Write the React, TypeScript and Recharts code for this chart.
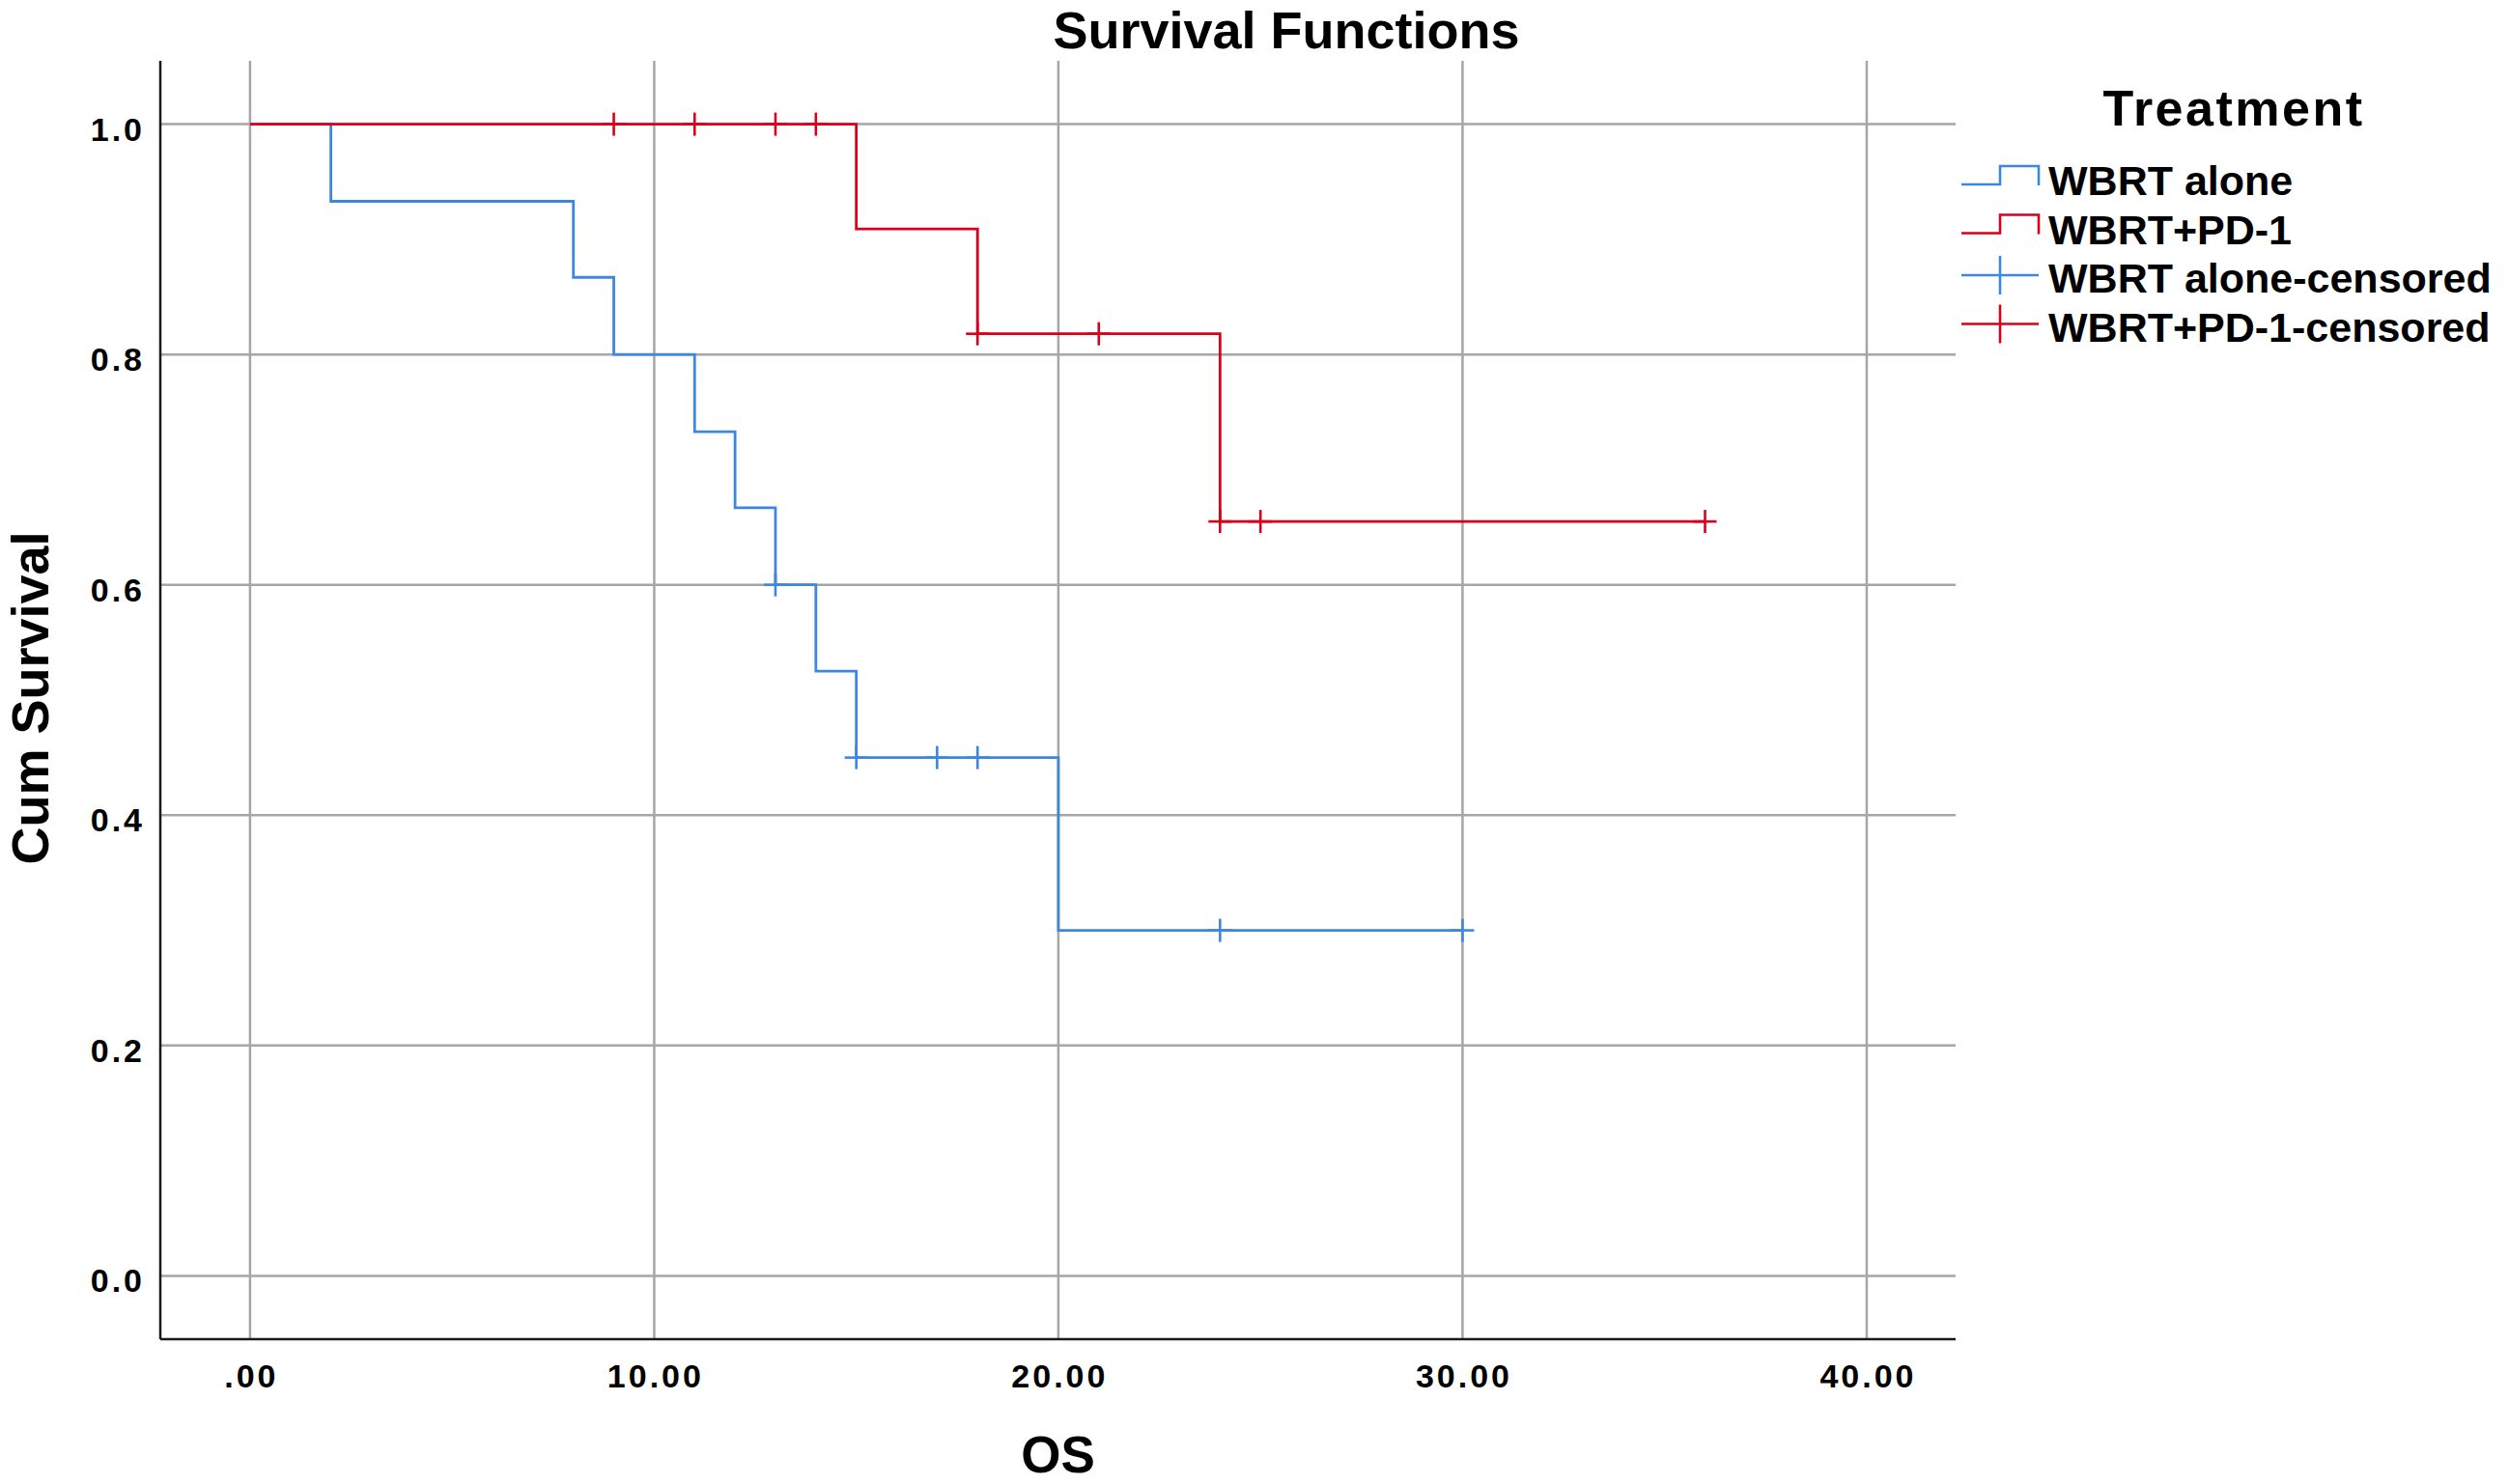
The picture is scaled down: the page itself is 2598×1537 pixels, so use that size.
import React from 'react';
import {
  ComposedChart,
  Line,
  Scatter,
  XAxis,
  YAxis,
  CartesianGrid,
  Legend,
  Label,
} from 'recharts';

// Kaplan-Meier steps (OS in months, cumulative survival)
const wbrtAloneSteps = [
  { x: 0, y: 1.0 },
  { x: 2, y: 0.933 },
  { x: 8, y: 0.867 },
  { x: 9, y: 0.8 },
  { x: 11, y: 0.733 },
  { x: 12, y: 0.667 },
  { x: 13, y: 0.6 },
  { x: 14, y: 0.525 },
  { x: 15, y: 0.45 },
  { x: 20, y: 0.3 },
  { x: 30, y: 0.3 },
];

const wbrtPd1Steps = [
  { x: 0, y: 1.0 },
  { x: 15, y: 0.909 },
  { x: 18, y: 0.818 },
  { x: 24, y: 0.655 },
  { x: 36, y: 0.655 },
];

const wbrtAloneCensored = [
  { x: 13, y: 0.6 },
  { x: 15, y: 0.45 },
  { x: 17, y: 0.45 },
  { x: 18, y: 0.45 },
  { x: 24, y: 0.3 },
  { x: 30, y: 0.3 },
];

const wbrtPd1Censored = [
  { x: 9, y: 1.0 },
  { x: 11, y: 1.0 },
  { x: 13, y: 1.0 },
  { x: 14, y: 1.0 },
  { x: 18, y: 0.818 },
  { x: 21, y: 0.818 },
  { x: 24, y: 0.655 },
  { x: 25, y: 0.655 },
  { x: 36, y: 0.655 },
];

const xTicks = [0, 10, 20, 30, 40];
const yTicks = [0, 0.2, 0.4, 0.6, 0.8, 1.0];
const xDomain = [-2.22, 42.2];
const yDomain = [-0.055, 1.055];

const BLUE = '#3D87DF';
const RED = '#D8001C';
const FONT = '"Liberation Sans", Arial, Helvetica, sans-serif';

// grid only at the tick values (no lines on the top / right edge)
const vGrid = (p: any) => {
  const o = p.offset;
  return xTicks.map((t) => o.left + ((t - xDomain[0]) / (xDomain[1] - xDomain[0])) * o.width);
};
const hGrid = (p: any) => {
  const o = p.offset;
  return yTicks.map((t) => o.top + ((yDomain[1] - t) / (yDomain[1] - yDomain[0])) * o.height);
};

const crossShape = (color: string) => (props: any) => {
  const { cx, cy } = props;
  return (
    <g>
      <line x1={cx - 12} x2={cx + 12} y1={cy} y2={cy} stroke={color} strokeWidth={2.6} />
      <line x1={cx} x2={cx} y1={cy - 12} y2={cy + 12} stroke={color} strokeWidth={2.6} />
    </g>
  );
};

const XTick = (props: any) => {
  const { x, y, payload } = props;
  const v = payload.value;
  const label = v === 0 ? '.00' : v.toFixed(2);
  return (
    <text
      x={x + 1.5}
      y={y + 50}
      textAnchor="middle"
      fontFamily={FONT}
      fontWeight="bold"
      fontSize={34}
      letterSpacing={3}
      fill="#000"
    >
      {label}
    </text>
  );
};

const YTick = (props: any) => {
  const { x, y, payload } = props;
  return (
    <text
      x={x - 16}
      y={y + 17}
      textAnchor="end"
      fontFamily={FONT}
      fontWeight="bold"
      fontSize={34}
      letterSpacing={3}
      fill="#000"
    >
      {payload.value.toFixed(1)}
    </text>
  );
};

const legendRows = [
  { name: 'WBRT alone', color: BLUE, kind: 'step' },
  { name: 'WBRT+PD-1', color: RED, kind: 'step' },
  { name: 'WBRT alone-censored', color: BLUE, kind: 'cross' },
  { name: 'WBRT+PD-1-censored', color: RED, kind: 'cross' },
];

const LegendContent = () => (
  <svg width={578} height={320} style={{ display: 'block', overflow: 'visible' }}>
    <text
      x={293}
      y={70}
      textAnchor="middle"
      fontFamily={FONT}
      fontWeight="bold"
      fontSize={52}
      letterSpacing={2.5}
      fill="#000"
    >
      Treatment
    </text>
    {legendRows.map((row, i) => {
      const base = 142 + i * 50.5;
      const mid = base - 11;
      return (
        <g key={row.name}>
          {row.kind === 'step' ? (
            <path
              d={`M11,${mid} H51 V${mid - 19} H91 V${mid + 1}`}
              fill="none"
              stroke={row.color}
              strokeWidth={2.6}
            />
          ) : (
            <g>
              <line x1={11} x2={91} y1={mid - 7} y2={mid - 7} stroke={row.color} strokeWidth={2.6} />
              <line x1={51} x2={51} y1={mid - 27} y2={mid + 13} stroke={row.color} strokeWidth={2.6} />
            </g>
          )}
          <text x={101} y={base} fontFamily={FONT} fontWeight="bold" fontSize={43} fill="#000">
            {row.name}
          </text>
        </g>
      );
    })}
  </svg>
);

export default function App() {
  return (
    <div style={{ position: 'absolute', left: 0, top: 0, width: 2598, height: 1537, background: '#fff' }}>
      <ComposedChart
        width={2598}
        height={1537}
        margin={{ top: 63, right: 573, bottom: 0, left: 0 }}
      >
        <CartesianGrid
          stroke="#A6A6A6"
          strokeWidth={2.5}
          verticalCoordinatesGenerator={vGrid}
          horizontalCoordinatesGenerator={hGrid}
        />
        <XAxis
          dataKey="x"
          type="number"
          domain={xDomain}
          allowDataOverflow
          ticks={xTicks}
          tick={<XTick />}
          tickLine={false}
          tickSize={0}
          tickMargin={0}
          height={150}
          axisLine={{ stroke: '#1A1A1A', strokeWidth: 2.5 }}
        >
          <Label
            content={(p: any) => {
              const vb = p.viewBox;
              return (
                <text
                  x={vb.x + vb.width / 2}
                  y={vb.y + 138}
                  textAnchor="middle"
                  fontFamily={FONT}
                  fontWeight="bold"
                  fontSize={53}
                  fill="#000"
                >
                  OS
                </text>
              );
            }}
          />
        </XAxis>
        <YAxis
          type="number"
          domain={yDomain}
          allowDataOverflow
          ticks={yTicks}
          tick={<YTick />}
          tickLine={false}
          tickSize={0}
          tickMargin={0}
          width={166}
          axisLine={{ stroke: '#1A1A1A', strokeWidth: 2.5 }}
        >
          <Label
            content={(p: any) => {
              const vb = p.viewBox;
              const cy = vb.y + vb.height / 2 - 2;
              return (
                <text
                  x={50}
                  y={cy}
                  transform={`rotate(-90, 50, ${cy})`}
                  textAnchor="middle"
                  fontFamily={FONT}
                  fontWeight="bold"
                  fontSize={54}
                  fill="#000"
                >
                  Cum Survival
                </text>
              );
            }}
          />
        </YAxis>
        <Legend
          layout="horizontal"
          verticalAlign="middle"
          align="center"
          content={<LegendContent />}
          wrapperStyle={{ left: 2020, top: 60, width: 578, height: 320 }}
        />
        <Line
          data={wbrtAloneSteps}
          dataKey="y"
          name="WBRT alone"
          type="stepAfter"
          stroke={BLUE}
          strokeWidth={2.8}
          dot={false}
          activeDot={false}
          isAnimationActive={false}
        />
        <Line
          data={wbrtPd1Steps}
          dataKey="y"
          name="WBRT+PD-1"
          type="stepAfter"
          stroke={RED}
          strokeWidth={2.8}
          dot={false}
          activeDot={false}
          isAnimationActive={false}
        />
        <Scatter
          data={wbrtAloneCensored}
          dataKey="y"
          name="WBRT alone-censored"
          fill={BLUE}
          shape={crossShape(BLUE)}
          isAnimationActive={false}
        />
        <Scatter
          data={wbrtPd1Censored}
          dataKey="y"
          name="WBRT+PD-1-censored"
          fill={RED}
          shape={crossShape(RED)}
          isAnimationActive={false}
        />
      </ComposedChart>
      <svg
        width={2598}
        height={70}
        style={{ position: 'absolute', left: 0, top: 0, pointerEvents: 'none' }}
      >
        <text
          x={1332}
          y={50}
          textAnchor="middle"
          fontFamily={FONT}
          fontWeight="bold"
          fontSize={54}
          fill="#000"
        >
          Survival Functions
        </text>
      </svg>
    </div>
  );
}
